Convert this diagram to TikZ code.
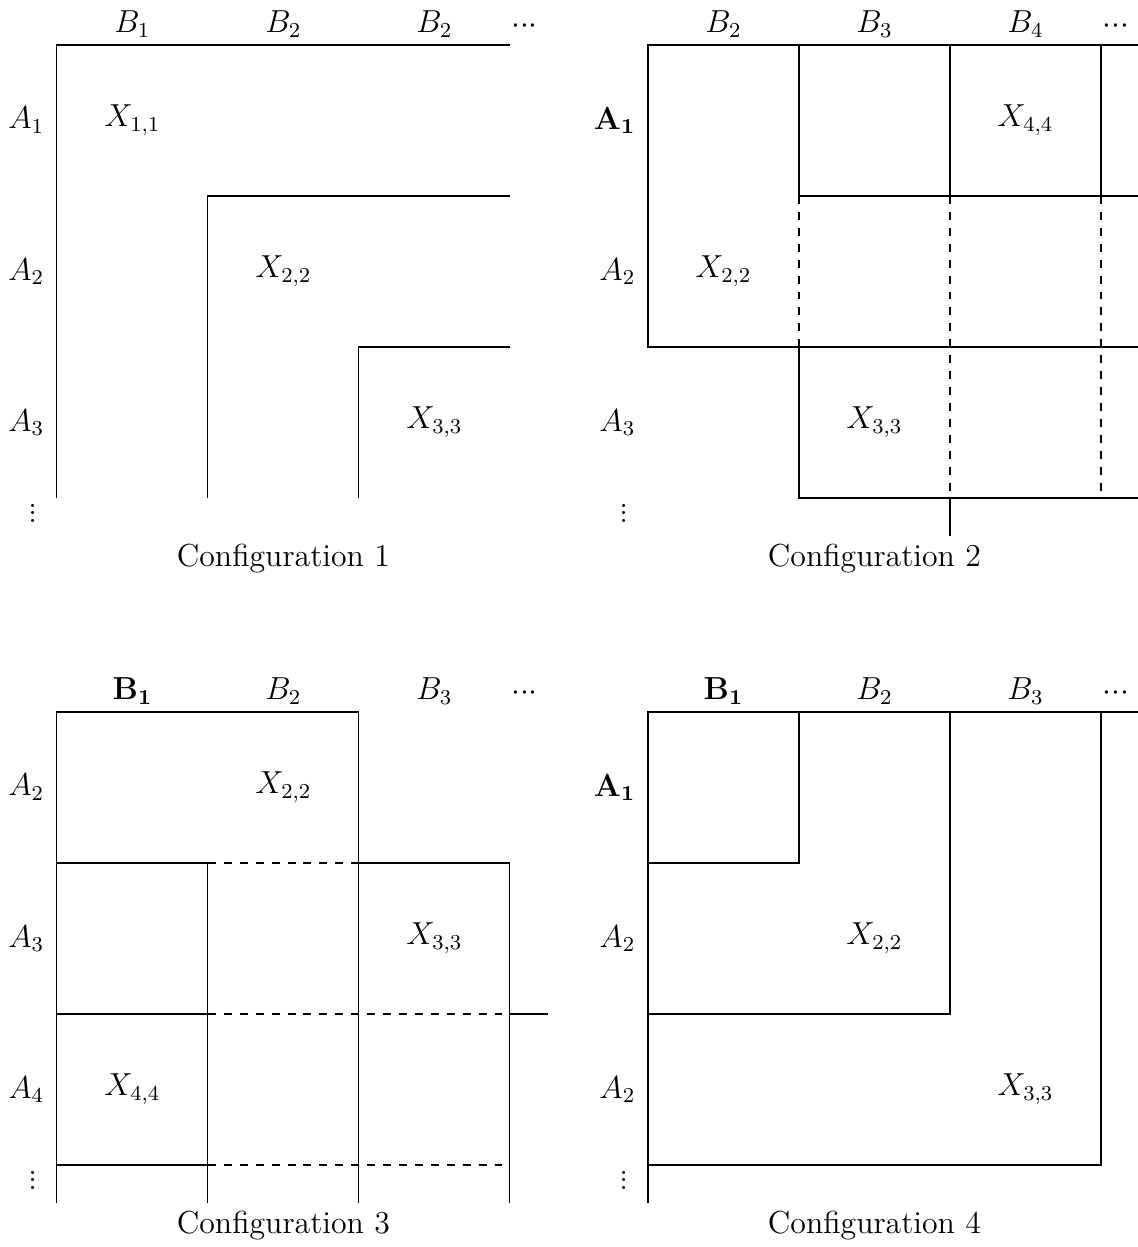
\documentclass[12pt,tikz,border=0pt]{standalone}
\usepackage{amsmath}
\usetikzlibrary{calc}
\newcommand{\shortvdots}{\vbox{\baselineskip=2.8pt\lineskiplimit=0pt\hbox{.}\hbox{.}\hbox{.}}}
\newcommand{\tightcdots}{${\cdot}{\cdot}{\cdot}$}

\begin{document}
\begin{tikzpicture}[x=2cm,y=2cm,
    collbl/.style={inner sep=0pt},
    rowlbl/.style={anchor=east,inner sep=0pt},
    dotlbl/.style={inner sep=0pt},
    entry/.style={inner sep=0pt},
    conf/.style={inner sep=0pt}]
  % Configurable parameters
  \def\dx{3.914}
  \def\dy{4.417}
  %
  \useasboundingbox (-0.377,0.298) rectangle (7.159,-7.96);
  %
  % Configuration 1
  \begin{scope}
    \draw (3,0) -- (0,0) -- (0,-3);
    \draw (3,-1) -- (1,-1) -- (1,-3);
    \draw (3,-2) -- (2,-2) -- (2,-3);
    \node[collbl] (ab1) at (0.5,0.14) {$B_1$};
    \node[collbl] (ab2) at (1.5,0.14) {$B_2$};
    \node[collbl] (ab3) at (2.5,0.14) {$B_2$};
    \node[collbl] (abd) at (3.097,0.126) {\tightcdots};
    \node[rowlbl] (aa1) at (-0.08,-0.5) {$A_1$};
    \node[rowlbl] (aa2) at (-0.08,-1.5) {$A_2$};
    \node[rowlbl] (aa3) at (-0.08,-2.5) {$A_3$};
    \node[dotlbl] (aad) at (-0.161,-3.10) {\shortvdots};
    \node[entry] (ax11) at (0.5,-0.5) {$X_{1,1}$};
    \node[entry] (ax22) at (1.5,-1.5) {$X_{2,2}$};
    \node[entry] (ax33) at (2.5,-2.5) {$X_{3,3}$};
    \node[conf] (acap) at (1.5,-3.40) {Configuration 1};
  \end{scope}
  %
  % Configuration 2
  \begin{scope}[shift={(\dx,0)}]
    \draw (3.25,0) -- (0,0) -- (0,-2) -- (3.25,-2);
    \draw (3.25,-1) -- (1,-1);
    \draw (1,0) -- (1,-1);
    \draw[dashed] (1,-1) -- (1,-2);
    \draw (1,-2) -- (1,-3) -- (3.25,-3);
    \draw (2,0) -- (2,-1);
    \draw[dashed] (2,-1) -- (2,-3);
    \draw (2,-3) -- (2,-3.25);
    \draw (3,0) -- (3,-1);
    \draw[dashed] (3,-1) -- (3,-3);
    \node[collbl] (bb2) at (0.5,0.14) {$B_2$};
    \node[collbl] (bb3) at (1.5,0.14) {$B_3$};
    \node[collbl] (bb4) at (2.5,0.14) {$B_4$};
    \node[collbl] (bbd) at (3.097,0.126) {\tightcdots};
    \node[rowlbl] (ba1) at (-0.08,-0.5) {$\mathbf{A_1}$};
    \node[rowlbl] (ba2) at (-0.08,-1.5) {$A_2$};
    \node[rowlbl] (ba3) at (-0.08,-2.5) {$A_3$};
    \node[dotlbl] (bad) at (-0.161,-3.10) {\shortvdots};
    \node[entry] (bx44) at (2.5,-0.5) {$X_{4,4}$};
    \node[entry] (bx22) at (0.5,-1.5) {$X_{2,2}$};
    \node[entry] (bx33) at (1.5,-2.5) {$X_{3,3}$};
    \node[conf] (bcap) at (1.5,-3.40) {Configuration 2};
  \end{scope}
  %
  % Configuration 3
  \begin{scope}[shift={(0,-\dy)}]
    \draw (0,-3.25) -- (0,0) -- (2,0) -- (2,-3.25);
    \draw (0,-1) -- (1,-1);
    \draw[dashed] (1,-1) -- (2,-1);
    \draw (2,-1) -- (3,-1) -- (3,-3.25);
    \draw (1,-1) -- (1,-3.25);
    \draw (0,-2) -- (1,-2);
    \draw[dashed] (1,-2) -- (3,-2);
    \draw (3,-2) -- (3.25,-2);
    \draw (0,-3) -- (1,-3);
    \draw[dashed] (1,-3) -- (3,-3);
    \node[collbl] (cb1) at (0.5,0.14) {$\mathbf{B_1}$};
    \node[collbl] (cb2) at (1.5,0.14) {$B_2$};
    \node[collbl] (cb3) at (2.5,0.14) {$B_3$};
    \node[collbl] (cbd) at (3.097,0.126) {\tightcdots};
    \node[rowlbl] (ca2) at (-0.08,-0.5) {$A_2$};
    \node[rowlbl] (ca3) at (-0.08,-1.5) {$A_3$};
    \node[rowlbl] (ca4) at (-0.08,-2.5) {$A_4$};
    \node[dotlbl] (cad) at (-0.161,-3.10) {\shortvdots};
    \node[entry] (cx22) at (1.5,-0.5) {$X_{2,2}$};
    \node[entry] (cx33) at (2.5,-1.5) {$X_{3,3}$};
    \node[entry] (cx44) at (0.5,-2.5) {$X_{4,4}$};
    \node[conf] (ccap) at (1.5,-3.40) {Configuration 3};
  \end{scope}
  %
  % Configuration 4
  \begin{scope}[shift={(\dx,-\dy)}]
    \draw (3.25,0) -- (0,0) -- (0,-3.25);
    \draw (0,-1) -- (1,-1) -- (1,0);
    \draw (0,-2) -- (2,-2) -- (2,0);
    \draw (0,-3) -- (3,-3) -- (3,0);
    \node[collbl] (db1) at (0.5,0.14) {$\mathbf{B_1}$};
    \node[collbl] (db2) at (1.5,0.14) {$B_2$};
    \node[collbl] (db3) at (2.5,0.14) {$B_3$};
    \node[collbl] (dbd) at (3.097,0.126) {\tightcdots};
    \node[rowlbl] (da1) at (-0.08,-0.5) {$\mathbf{A_1}$};
    \node[rowlbl] (da2) at (-0.08,-1.5) {$A_2$};
    \node[rowlbl] (da3) at (-0.08,-2.5) {$A_2$};
    \node[dotlbl] (dad) at (-0.161,-3.10) {\shortvdots};
    \node[entry] (dx22) at (1.5,-1.5) {$X_{2,2}$};
    \node[entry] (dx33) at (2.5,-2.5) {$X_{3,3}$};
    \node[conf] (dcap) at (1.5,-3.40) {Configuration 4};
  \end{scope}
  %
\end{tikzpicture}
\end{document}
